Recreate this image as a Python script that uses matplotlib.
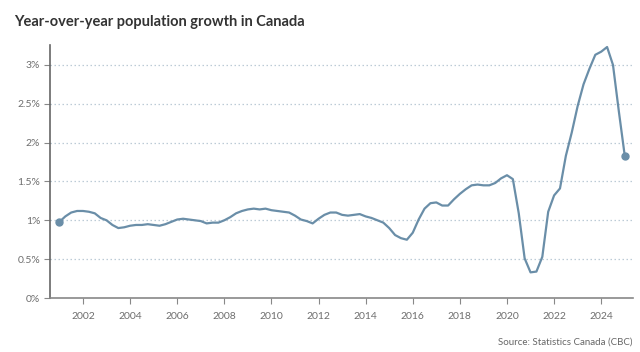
import matplotlib
matplotlib.use("Agg")
import matplotlib.pyplot as plt
import numpy as np

plt.rcParams['font.family'] = ['Lato', 'DejaVu Sans']

start_year = 2001.0
growth_pct = [
    0.98, 1.05, 1.10, 1.12, 1.12, 1.11, 1.09, 1.03,
    1.00, 0.94, 0.90, 0.91, 0.93, 0.94, 0.94, 0.95,
    0.94, 0.93, 0.95, 0.98, 1.01, 1.02, 1.01, 1.00,
    0.99, 0.96, 0.97, 0.97, 1.00, 1.04, 1.09, 1.12,
    1.14, 1.15, 1.14, 1.15, 1.13, 1.12, 1.11, 1.10,
    1.06, 1.01, 0.99, 0.96, 1.02, 1.07, 1.10, 1.10,
    1.07, 1.06, 1.07, 1.08, 1.05, 1.03, 1.00, 0.97,
    0.90, 0.81, 0.77, 0.75, 0.84, 1.01, 1.15, 1.22,
    1.23, 1.19, 1.19, 1.27, 1.34, 1.40, 1.45, 1.46,
    1.45, 1.45, 1.48, 1.54, 1.58, 1.53, 1.09, 0.51,
    0.33, 0.34, 0.53, 1.11, 1.32, 1.41, 1.83, 2.13,
    2.47, 2.75, 2.95, 3.13, 3.17, 3.23, 3.00, 2.40,
    1.83,
]
years = start_year + np.arange(len(growth_pct)) / 4.0

x_ticks = [2002, 2004, 2006, 2008, 2010, 2012, 2014, 2016, 2018, 2020, 2022, 2024]
y_ticks = [0, 0.5, 1, 1.5, 2, 2.5, 3]
y_labels = ['0%', '0.5%', '1%', '1.5%', '2%', '2.5%', '3%']

title = "Year-over-year population growth in Canada"
source = "Source: Statistics Canada (CBC)"

W, H = 640, 352
fig = plt.figure(figsize=(W / 100, H / 100), dpi=100)
left, right, top, bottom = 50, 633, 45, 298
ax = fig.add_axes([left / W, 1 - bottom / H, (right - left) / W, (bottom - top) / H])

line_color = '#6a8ea8'
ax.plot(years, growth_pct, color=line_color, lw=1.6, solid_joinstyle='round', zorder=3)
ax.plot([years[0], years[-1]], [growth_pct[0], growth_pct[-1]], 'o', color=line_color,
        ms=5, zorder=4)

ax.set_xlim(2000.6, 2025.35)
ax.set_ylim(0, 3.256)
ax.set_xticks(x_ticks)
ax.set_xticklabels([str(t) for t in x_ticks])
ax.set_yticks(y_ticks)
ax.set_yticklabels(y_labels)

for y in y_ticks[1:]:
    ax.axhline(y, color='#bccbd6', lw=0.9, ls=(0, (1.2, 2.0)), zorder=1)

for s in ['top', 'right']:
    ax.spines[s].set_visible(False)
ax.spines['left'].set_color('#666666')
ax.spines['left'].set_linewidth(1.2)
ax.spines['bottom'].set_color('#888888')
ax.spines['bottom'].set_linewidth(1.2)

ax.tick_params(axis='x', colors='#888888', labelcolor='#6e6e6e', labelsize=7.5,
               length=4, width=0.8, pad=6)
ax.tick_params(axis='y', colors='#888888', labelcolor='#6e6e6e', labelsize=7.5,
               length=4, width=0.8, pad=3)

fig.text(14 / W, 1 - 22 / H, title, fontsize=10.5, fontweight='bold', color='#333333',
         ha='left', va='center')
fig.text(633 / W, 1 - 342 / H, source, fontsize=7, color='#666666',
         ha='right', va='center')

fig.savefig('out.png', dpi=100)
